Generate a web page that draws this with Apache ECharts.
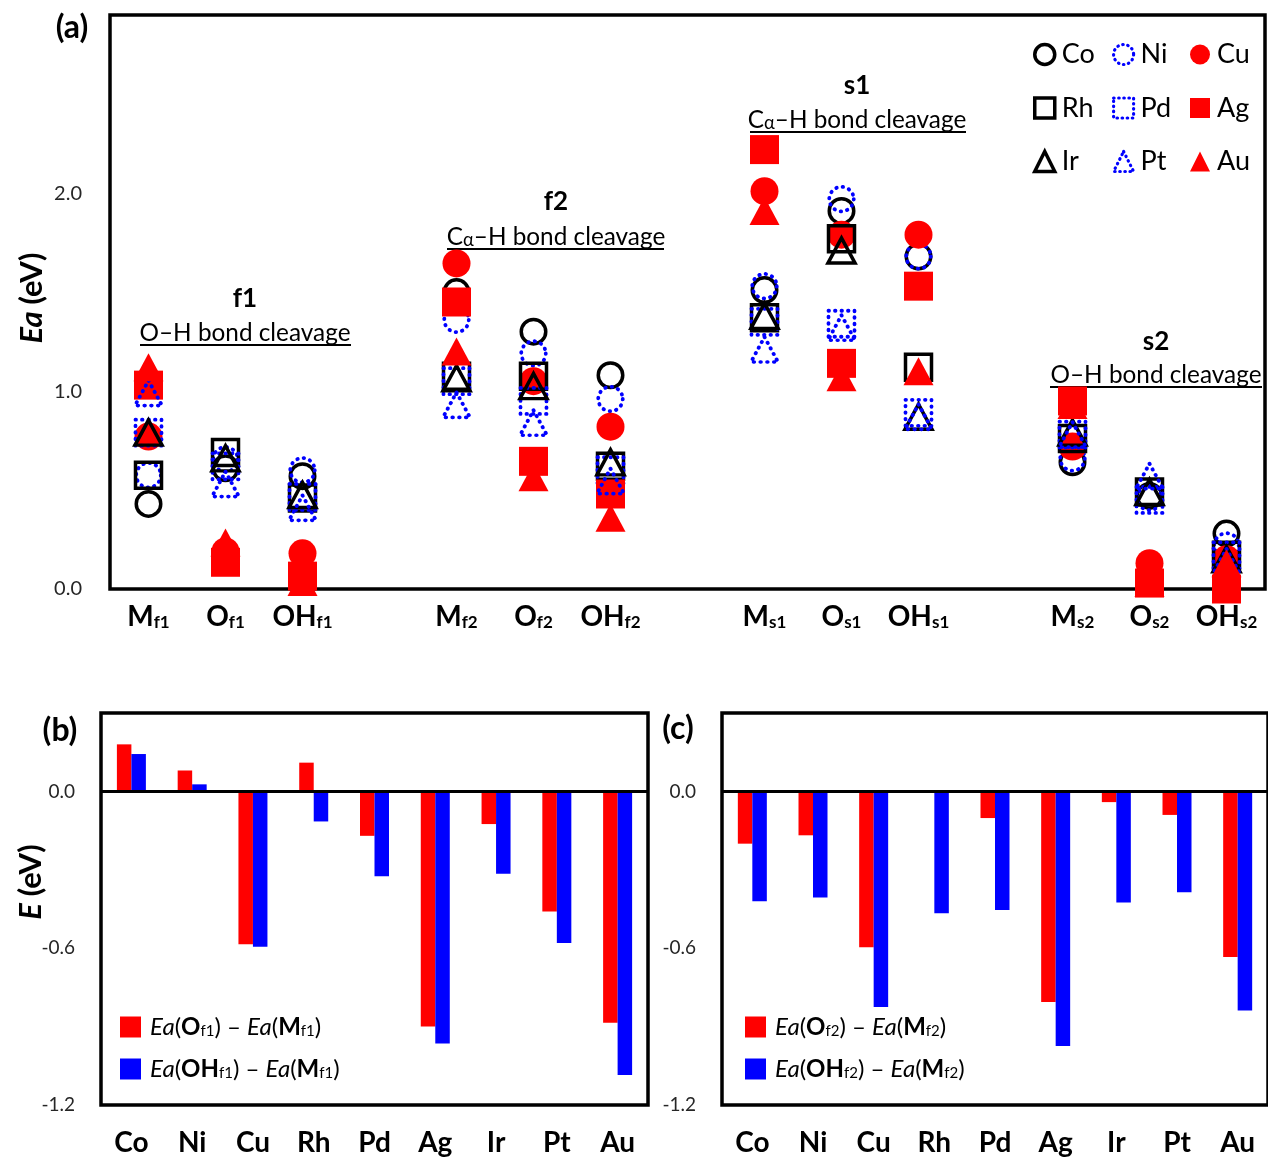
<!DOCTYPE html>
<html><head><meta charset="utf-8">
<script src="https://cdn.jsdelivr.net/npm/echarts@6/dist/echarts.min.js"></script>
<style>html,body{margin:0;padding:0;background:#fff}#c{width:1268px;height:1160px}</style>
</head><body><div id="c"></div><script>
const FONT = 'Lato, Carlito, Calibri, "Open Sans", sans-serif';

// ---------- Panel (a) data ----------
const sites = ['M_f1','O_f1','OH_f1','M_f2','O_f2','OH_f2','M_s1','O_s1','OH_s1','M_s2','O_s2','OH_s2'];
const metals = ['Co','Ni','Cu','Rh','Pd','Ag','Ir','Pt','Au'];
const Co = [0.43, 0.61, 0.57, 1.50, 1.30, 1.08, 1.51, 1.91, 1.68, 0.64, 0.47, 0.28];
const Ni = [0.575,0.655,0.60, 1.36, 1.19, 0.96, 1.53, 1.97, 1.68, 0.66, 0.46, 0.22];
const Cu = [0.77, 0.19, 0.18, 1.645,1.05, 0.82, 2.01, 1.79, 1.79, 0.72, 0.13, 0.15];
const Rh = [0.575,0.69, 0.46, 1.075,1.075,0.62, 1.37, 1.77, 1.12, 0.76, 0.49, 0.17];
const Pd = [0.79, 0.62, 0.465,1.05, 0.95, 0.60, 1.35, 1.34, 0.89, 0.78, 0.45, 0.17];
const Ag = [1.03, 0.135,0.065,1.45, 0.645,0.48, 2.22, 1.14, 1.53, 0.95, 0.03, 0.00];
const Ir = [0.79, 0.66, 0.475,1.065,1.025,0.64, 1.38, 1.71, 0.87, 0.79, 0.49, 0.15];
const Pt = [0.99, 0.53, 0.41, 0.93, 0.84, 0.545,1.21, 1.32, 0.87, 0.78, 0.57, 0.14];
const Au = [1.12, 0.235,0.035,1.20, 0.565,0.36, 1.91, 1.07, 1.10, 0.93, 0.03, 0.13];
const valuesA = {Co, Ni, Cu, Rh, Pd, Ag, Ir, Pt, Au};
const yTicksA = [0, 1, 2];

// ---------- Panels (b) and (c) data ----------
const metalCats = ['Co','Ni','Cu','Rh','Pd','Ag','Ir','Pt','Au'];
const dOf1  = [0.18, 0.08, -0.585, 0.11, -0.17, -0.90, -0.125, -0.46, -0.885];
const dOHf1 = [0.143, 0.027, -0.594, -0.115, -0.325, -0.965, -0.315, -0.58, -1.085];
const dOf2  = [-0.20, -0.168, -0.596, 0, -0.102, -0.806, -0.041, -0.09, -0.634];
const dOHf2 = [-0.42, -0.406, -0.825, -0.466, -0.454, -0.974, -0.425, -0.386, -0.838];
const yTicksBC = [-1.2, -0.6, 0];

// category axis for (a): blank slot between groups
const axisCatsA = [];
sites.forEach((s, i) => { axisCatsA.push(s); if (i % 3 === 2 && i < sites.length - 1) axisCatsA.push(''); });
function toSlots(arr) {
  const out = [];
  arr.forEach((v, i) => { out.push(v); if (i % 3 === 2 && i < arr.length - 1) out.push('-'); });
  return out;
}

const shapeOf = {Co:'circle', Ni:'circle', Cu:'circle', Rh:'rect', Pd:'rect', Ag:'rect', Ir:'triangle', Pt:'triangle', Au:'triangle'};
const kindOf  = {Co:'open', Ni:'dot', Cu:'fill', Rh:'open', Pd:'dot', Ag:'fill', Ir:'open', Pt:'dot', Au:'fill'};
function styleFor(kind) {
  if (kind === 'open') return {color:'rgba(0,0,0,0)', borderColor:'#000', borderWidth:3.5, opacity:1};
  if (kind === 'dot') return {color:'rgba(0,0,0,0)', borderColor:'#0000ff', borderWidth:3.8, borderType:[0.5,6], borderCap:'round', opacity:1};
  return {color:'#ff0000', borderWidth:0, opacity:1};
}
function sizeFor(shape, kind) {
  if (kind === 'fill') return shape === 'circle' ? 28 : shape === 'rect' ? 29 : [30, 28];
  return shape === 'circle' ? 24.5 : shape === 'rect' ? 26 : [27, 25];
}

const scatterSeries = metals.map(m => ({
  name: m, type: 'scatter', xAxisIndex: 0, yAxisIndex: 0,
  symbol: shapeOf[m], symbolSize: sizeFor(shapeOf[m], kindOf[m]),
  itemStyle: styleFor(kindOf[m]),
  emphasis: {disabled: true},
  data: toSlots(valuesA[m])
}));

function legendA(names, left) {
  return {
    orient: 'vertical', left: left, top: 41, padding: 0, itemGap: 26.5, itemWidth: 20, itemHeight: 20,
    selectedMode: false,
    textStyle: {fontFamily: FONT, fontSize: 27, color: '#000', padding: [0,0,0,2]},
    data: names.map(n => {
      const st = Object.assign({}, styleFor(kindOf[n]));
      if (kindOf[n] === 'dot') { st.borderWidth = 3.2; st.borderType = [0.5, 4.6]; }
      if (kindOf[n] === 'open') st.borderWidth = 3.5;
      return {name: n, icon: shapeOf[n], itemStyle: st};
    })
  };
}

const richTxt = {
  i: {fontFamily: FONT, fontSize: 24, fontStyle: 'italic', color: '#000'},
  n: {fontFamily: FONT, fontSize: 24, color: '#000'},
  b: {fontFamily: FONT, fontSize: 24, fontWeight: 'bold', color: '#000'},
  s: {fontFamily: FONT, fontSize: 15, color: '#000', verticalAlign: 'bottom'}
};
const legendLabels = {
  dO1: '{i|Ea}{n|(}{b|O}{s|f1}{n|) – }{i|Ea}{n|(}{b|M}{s|f1}{n|)}',
  dOH1: '{i|Ea}{n|(}{b|OH}{s|f1}{n|) – }{i|Ea}{n|(}{b|M}{s|f1}{n|)}',
  dO2: '{i|Ea}{n|(}{b|O}{s|f2}{n|) – }{i|Ea}{n|(}{b|M}{s|f2}{n|)}',
  dOH2: '{i|Ea}{n|(}{b|OH}{s|f2}{n|) – }{i|Ea}{n|(}{b|M}{s|f2}{n|)}'
};
function legendBC(names, left) {
  return {
    orient: 'vertical', left: left, top: 1015, padding: 0, itemGap: 18, itemWidth: 21, itemHeight: 21,
    selectedMode: false, icon: 'rect',
    formatter: n => legendLabels[n],
    textStyle: {fontFamily: FONT, fontSize: 24, color: '#000', rich: richTxt, padding: [0,0,0,4]},
    data: names
  };
}

function barSeries(name, data, color, idx, withZero) {
  const s = {
    name, type: 'bar', xAxisIndex: idx, yAxisIndex: idx, data,
    barWidth: 14.5, barGap: '0%', itemStyle: {color},
    emphasis: {disabled: true}
  };
  if (withZero) s.markLine = {
    silent: true, symbol: ['none','none'], label: {show: false},
    lineStyle: {color: '#000', width: 3, type: 'solid'}, data: [{yAxis: 0}]
  };
  return s;
}

const catAxisBC = (gi) => ({
  type: 'category', gridIndex: gi, data: metalCats,
  axisLine: {show: false}, axisTick: {show: false},
  axisLabel: {margin: 24, fontFamily: FONT, fontSize: 28, fontWeight: 'bold', color: '#000'}
});
const valAxisBC = (gi) => ({
  type: 'value', gridIndex: gi, min: -1.2, max: 0.3, interval: 0.6,
  axisLine: {show: false}, axisTick: {show: false}, splitLine: {show: false},
  axisLabel: {margin: 26, fontFamily: FONT, fontSize: 19, color: '#262626',
    formatter: v => yTicksBC.some(t => Math.abs(t - v) < 1e-6) ? v.toFixed(1) : ''}
});

// fit annotation font to reference width
function textW(txt, font) { const c = document.createElement('canvas').getContext('2d'); c.font = font; return c.measureText(txt).width; }
const annSize = Math.max(18, Math.min(26, 22 * 211 / textW('O–H bond cleavage', '22px Lato')));

function title(txt, x, y) {
  return {type:'text', x, y, style:{text: txt, fontFamily: FONT, fontSize: 26, fontWeight:'bold', fill:'#000', align:'center', verticalAlign:'middle'}};
}
function sub(txt, x, y) {
  return {type:'text', x, y, style:{text: txt, fontFamily: FONT, fontSize: annSize, fill:'#000', align:'center', verticalAlign:'middle',
    rich: {n:{fontFamily: FONT, fontSize: annSize, fill:'#000'}, s:{fontFamily: FONT, fontSize: annSize*0.75, fill:'#000', verticalAlign:'bottom'}}}};
}
function uline(x1, x2, y) {
  return {type:'line', shape:{x1, y1:y, x2, y2:y}, style:{stroke:'#000', lineWidth:2}};
}
function panelLabel(txt, x, y) {
  return {type:'text', x, y, style:{text: txt, fontFamily: FONT, fontSize: 32, fontWeight:'bold', fill:'#000', align:'center', verticalAlign:'middle'}};
}
function yName(txt, x, y) {
  return {type:'text', x, y, rotation: Math.PI/2, style:{text: txt, align:'center', verticalAlign:'middle',
    rich:{i:{fontFamily: FONT, fontSize: 31, fontWeight:'bold', fontStyle:'italic', fill:'#000'}, b:{fontFamily: FONT, fontSize: 31, fontWeight:'bold', fill:'#000'}}}};
}

const graphics = [
  panelLabel('(a)', 72, 28), panelLabel('(b)', 60, 731), panelLabel('(c)', 678, 729),
  yName('{i|Ea }{b|(eV)}', 32, 298), yName('{i|E }{b|(eV)}', 31, 882),
  title('f1', 245, 299), sub('{n|O–H bond cleavage}', 245, 333), uline(140, 351, 345),
  title('f2', 556, 202), sub('{n|C}{s|α}{n|–H bond cleavage}', 556, 237), uline(447, 664, 249),
  title('s1', 857, 86), sub('{n|C}{s|α}{n|–H bond cleavage}', 857, 120), uline(750, 966, 132),
  title('s2', 1156, 342), sub('{n|O–H bond cleavage}', 1156, 375), uline(1050, 1262, 387)
];

const option = {
  backgroundColor: '#fff',
  animation: false,
  grid: [
    {left: 110, top: 15, width: 1155, height: 574, show: true, borderColor: '#000', borderWidth: 3.5, backgroundColor: 'rgba(0,0,0,0)'},
    {left: 101, top: 713, width: 547, height: 392, show: true, borderColor: '#000', borderWidth: 3.5, backgroundColor: 'rgba(0,0,0,0)'},
    {left: 722, top: 713, width: 548, height: 392, show: true, borderColor: '#000', borderWidth: 3.5, backgroundColor: 'rgba(0,0,0,0)'}
  ],
  xAxis: [
    {type: 'category', gridIndex: 0, data: axisCatsA,
     axisLine: {show: false}, axisTick: {show: false},
     axisLabel: {interval: 0, margin: 14,
       formatter: v => { if (!v) return ''; const p = v.split('_'); return '{m|' + p[0] + '}{s|' + p[1] + '}'; },
       rich: {m: {fontFamily: FONT, fontSize: 28, fontWeight: 'bold', color: '#000'},
              s: {fontFamily: FONT, fontSize: 17, fontWeight: 'bold', color: '#000', verticalAlign: 'bottom'}}}},
    catAxisBC(1), catAxisBC(2)
  ],
  yAxis: [
    {type: 'value', gridIndex: 0, min: 0, max: 2.9, interval: 1,
     axisLine: {show: false}, axisTick: {show: false}, splitLine: {show: false},
     axisLabel: {margin: 28, fontFamily: FONT, fontSize: 20, color: '#262626',
       formatter: v => yTicksA.some(t => Math.abs(t - v) < 1e-6) ? v.toFixed(1) : ''}},
    valAxisBC(1), valAxisBC(2)
  ],
  legend: [
    legendA(['Co','Rh','Ir'], 1033),
    legendA(['Ni','Pd','Pt'], 1112),
    legendA(['Cu','Ag','Au'], 1190),
    legendBC(['dO1','dOH1'], 120),
    legendBC(['dO2','dOH2'], 745)
  ],
  graphic: graphics,
  series: scatterSeries.concat([
    barSeries('dO1', dOf1, '#ff0000', 1, true),
    barSeries('dOH1', dOHf1, '#0000ff', 1, false),
    barSeries('dO2', dOf2, '#ff0000', 2, true),
    barSeries('dOH2', dOHf2, '#0000ff', 2, false)
  ])
};

const chart = echarts.init(document.getElementById('c'), null, {renderer: 'canvas'});
chart.setOption(option);
</script></body></html>
